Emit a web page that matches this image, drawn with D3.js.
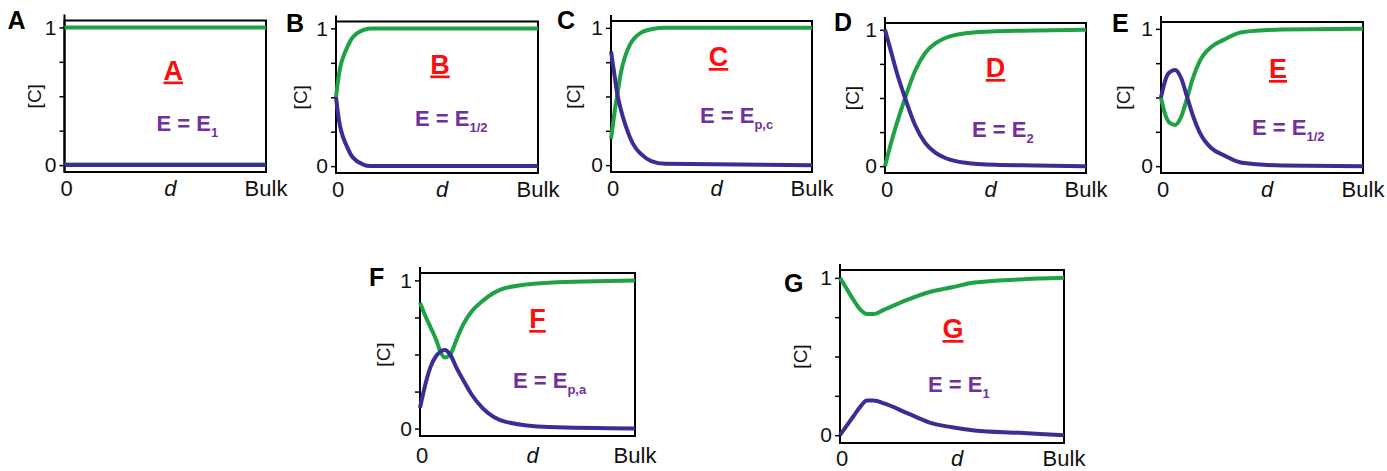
<!DOCTYPE html>
<html><head><meta charset="utf-8">
<script src="https://cdn.jsdelivr.net/npm/d3@7"></script>
<style>
html,body{margin:0;padding:0;background:#fff;}
svg{display:block;font-family:"Liberation Sans",Arial,sans-serif;}
</style></head>
<body>
<svg id="chart" width="1387" height="471"></svg>
<script>
// ---------------- data ----------------
const panelIds = ["A","B","C","D","E","F","G"];
const subscripts = ["1","1/2","p,c","2","1/2","p,a","1"];
const yTickValues = [0, 0.25, 0.5, 0.75, 1];
const yTickLabels = ["0", "", "", "", "1"];
const xTickLabels = ["0", "d", "Bulk"];
const xTickValues = [0, 0.5, 1];

const aX = [0, 1];
const aGreen = [1, 1];
const aBlue = [0, 0];

const bX = [0, 0.01, 0.02, 0.035, 0.055, 0.075, 0.1, 0.13, 0.17, 1];
const bGreen = [0.5, 0.62, 0.71, 0.79, 0.86, 0.92, 0.96, 0.985, 1, 1];
const bBlue = [0.5, 0.38, 0.29, 0.21, 0.14, 0.08, 0.04, 0.015, 0, 0];

const cX = [0, 0.01, 0.02, 0.03, 0.05, 0.07, 0.095, 0.12, 0.15, 0.2, 0.27, 1];
const cGreen = [0.19, 0.3, 0.41, 0.5, 0.68, 0.79, 0.88, 0.93, 0.965, 0.99, 1, 1];
const cBlue = [0.83, 0.73, 0.63, 0.53, 0.4, 0.3, 0.2, 0.13, 0.08, 0.03, 0.01, 0];

const dX = [0, 0.03, 0.06, 0.1, 0.15, 0.2, 0.25, 0.3, 0.4, 0.55, 0.75, 1];
const dGreen = [0, 0.17, 0.32, 0.5, 0.7, 0.83, 0.9, 0.94, 0.975, 0.99, 0.995, 1];
const dBlue = [1, 0.84, 0.68, 0.5, 0.3, 0.17, 0.1, 0.06, 0.025, 0.01, 0.005, 0];

const eX = [0, 0.02, 0.04, 0.07, 0.1, 0.13, 0.16, 0.19, 0.25, 0.31, 0.4, 0.6, 1];
const eGreen = [0.5, 0.38, 0.32, 0.3, 0.36, 0.5, 0.65, 0.76, 0.87, 0.92, 0.975, 0.995, 1];
const eBlue = [0.5, 0.62, 0.68, 0.7, 0.64, 0.5, 0.36, 0.25, 0.13, 0.08, 0.025, 0.005, 0];

const fX = [0, 0.025, 0.05, 0.075, 0.095, 0.115, 0.14, 0.17, 0.2, 0.24, 0.29, 0.4, 0.6, 1];
const fGreen = [0.85, 0.76, 0.68, 0.6, 0.52, 0.48, 0.5, 0.6, 0.7, 0.79, 0.86, 0.95, 0.985, 1];
const fBlue = [0.14, 0.3, 0.42, 0.49, 0.52, 0.53, 0.5, 0.41, 0.33, 0.23, 0.14, 0.045, 0.01, 0];

const gX = [0, 0.03, 0.06, 0.09, 0.12, 0.15, 0.2, 0.3, 0.4, 0.5, 0.6, 0.8, 1];
const gGreen = [1, 0.93, 0.86, 0.8, 0.77, 0.77, 0.8, 0.86, 0.91, 0.94, 0.97, 0.99, 1];
const gBlue = [0, 0.06, 0.12, 0.18, 0.22, 0.22, 0.2, 0.14, 0.08, 0.05, 0.03, 0.015, 0];

const panelX = [aX, bX, cX, dX, eX, fX, gX];
const panelGreen = [aGreen, bGreen, cGreen, dGreen, eGreen, fGreen, gGreen];
const panelBlue = [aBlue, bBlue, cBlue, dBlue, eBlue, fBlue, gBlue];

// ---------------- layout (positions / styles) ----------------
const layout = [
  {left:64.5, right:266, top:20.5, bottom:172, letterDx:-57, letterY:29, cDx:-30, redDx:8,  redDy:59,  eDx:92, eDy:110, xlabDy:24},
  {left:336,  right:538, top:21.5, bottom:173, letterDx:-50, letterY:32, cDx:-36, redDx:3,  redDy:52,  eDx:79, eDy:104, xlabDy:24},
  {left:611,  right:812, top:21,   bottom:172, letterDx:-54, letterY:29, cDx:-38, redDx:7,  redDy:45,  eDx:89, eDy:102, xlabDy:24},
  {left:885,  right:1086,top:23,   bottom:173, letterDx:-51, letterY:31, cDx:-33, redDx:10, redDy:54,  eDx:87, eDy:114, xlabDy:24},
  {left:1161, right:1363,top:22,   bottom:173, letterDx:-49, letterY:32, cDx:-38, redDx:16, redDy:56,  eDx:91, eDy:113, xlabDy:24},
  {left:420,  right:635, top:273,  bottom:436, letterDx:-51, letterY:286,cDx:-37, redDx:10, redDy:55,  eDx:93, eDy:115, xlabDy:27},
  {left:840,  right:1064,top:270,  bottom:443, letterDx:-56, letterY:292,cDx:-40, redDx:1,  redDy:68,  eDx:88, eDy:122, xlabDy:23}
];
const GREEN = "#1fa246";
const BLUE = "#3b2d94";
const PURPLE = "#7030a0";
const RED = "#ff0d0d";

const svg = d3.select("#chart");

panelIds.forEach((id, i) => {
  const L = layout[i];
  const g = svg.append("g");
  const x = d3.scaleLinear().domain([0, 1]).range([L.left, L.right]);
  const y = d3.scaleLinear().domain([-0.05, 1.05]).range([L.bottom, L.top]);

  // y axis ticks
  const ax = g.append("g")
    .attr("transform", `translate(${L.left},0)`)
    .call(d3.axisLeft(y).tickValues(yTickValues).tickSize(5).tickPadding(3)
      .tickFormat((d, k) => yTickLabels[k]));
  ax.select(".domain").remove();
  ax.selectAll(".tick line").attr("stroke", "#000").attr("stroke-width", 1.5);
  ax.selectAll(".tick text").attr("font-size", 21).attr("fill", "#111")
    .attr("font-family", "'Liberation Sans',Arial,sans-serif");

  // frame
  g.append("rect")
    .attr("x", L.left).attr("y", L.top)
    .attr("width", L.right - L.left).attr("height", L.bottom - L.top)
    .attr("fill", "none").attr("stroke", "#000").attr("stroke-width", 2);
  // axis line extension above frame
  g.append("line")
    .attr("x1", L.left).attr("x2", L.left)
    .attr("y1", L.top - 6).attr("y2", L.bottom)
    .attr("stroke", "#000").attr("stroke-width", 2);

  // curves
  const xs = panelX[i];
  const line = d3.line().x(d => x(d[0])).y(d => y(d[1])).curve(d3.curveMonotoneX);
  if (id === "A") {
    g.append("path").attr("d", line(xs.map((v, k) => [v, aBlue[k]])))
      .attr("transform", "translate(0,-1.5)")
      .attr("fill", "none").attr("stroke", GREEN).attr("stroke-width", 2);
  }
  g.append("path").attr("d", line(xs.map((v, k) => [v, panelGreen[i][k]])))
    .attr("fill", "none").attr("stroke", GREEN).attr("stroke-width", 4)
    .attr("stroke-linejoin", "round");
  g.append("path").attr("d", line(xs.map((v, k) => [v, panelBlue[i][k]])))
    .attr("fill", "none").attr("stroke", BLUE).attr("stroke-width", 4)
    .attr("stroke-linejoin", "round");

  // x labels
  xTickValues.forEach((v, k) => {
    g.append("text")
      .attr("x", x(v) + (k === 0 ? 2 : k === 1 ? 5 : 0))
      .attr("y", L.bottom + L.xlabDy)
      .attr("text-anchor", "middle")
      .attr("font-size", 22)
      .attr("font-style", k === 1 ? "italic" : "normal")
      .attr("fill", "#111")
      .text(xTickLabels[k]);
  });

  // [C] label
  const cy = (L.top + L.bottom) / 2;
  g.append("text")
    .attr("transform", `translate(${L.left + L.cDx},${cy}) rotate(-90)`)
    .attr("text-anchor", "middle")
    .attr("dy", "0.35em")
    .attr("font-size", 19)
    .attr("fill", "#111")
    .text("[C]");

  // panel letter
  g.append("text")
    .attr("x", L.left + L.letterDx).attr("y", L.letterY)
    .attr("font-size", 25).attr("font-weight", "bold").attr("fill", "#000")
    .text(id);

  // red underlined label
  g.append("text")
    .attr("x", (L.left + L.right) / 2 + L.redDx).attr("y", L.top + L.redDy)
    .attr("text-anchor", "middle")
    .attr("font-size", 27).attr("font-weight", "bold").attr("fill", RED)
    .attr("text-decoration", "underline")
    .text(id);

  // purple E label
  const et = g.append("text")
    .attr("x", L.left + L.eDx).attr("y", L.top + L.eDy)
    .attr("font-size", 22).attr("font-weight", "bold").attr("fill", PURPLE);
  et.append("tspan").text("E = E");
  et.append("tspan").attr("font-size", 13).attr("dy", 6).text(subscripts[i]);
});
</script>
</body></html>
